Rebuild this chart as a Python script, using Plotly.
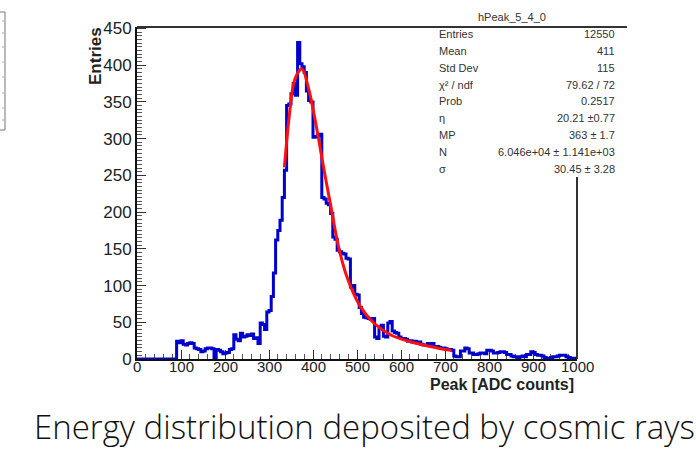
import numpy as np
import plotly.graph_objects as go

# ---------------- data ----------------
BIN_LOW = 0
BIN_WIDTH = 5
counts = [
    # 0-90
    0, 0, 0, 0, 0, 0, 0, 0, 0, 0, 0, 0, 0, 0, 0, 0, 0, 0,
    # 90-180
    24, 22, 25, 20, 19, 21, 22, 21, 15, 14, 13, 10, 11, 14, 15, 15, 14, 2,
    # 180-270
    13, 12, 10, 7, 8, 9, 13, 14, 33, 27, 25, 35, 30, 31, 33, 32, 34, 28,
    # 270-320
    29, 21, 49, 47, 40, 64, 66, 85, 117, 162,
    # 320-420
    175, 189, 220, 257, 345, 347, 361, 375, 359, 431,
    402, 398, 390, 365, 352, 350, 302, 303, 304, 306,
    # 420-495
    220, 218, 212, 210, 198, 166, 163, 148, 146, 144, 143, 137, 136, 98, 100,
    # 495-600
    88, 87, 70, 62, 57, 56, 55, 54, 55, 30, 28, 44, 46, 31, 30, 49, 51, 38, 36, 35, 30,
    # 600-720
    28, 28, 27, 24, 25, 23, 24, 22, 23, 20, 19, 19, 21, 20, 21, 17, 17, 16, 15, 15,
    14, 13, 13, 12,
    # 720-820
    4, 3, 3, 11, 11, 15, 14, 8, 8, 6, 6, 7, 8, 8, 7, 12, 12, 11, 8, 8,
    # 820-920
    9, 10, 10, 9, 6, 6, 4, 3, 3, 2, 3, 4, 3, 6, 6, 10, 9, 6, 5, 5,
    # 920-1000
    4, 2, 1, 1, 2, 3, 3, 4, 5, 5, 5, 3, 2, 1, 1, 1,
]

fit_x = [335, 345, 356, 366, 375, 390, 405, 424, 443, 458, 477, 507, 538, 576, 621, 667, 704, 715]
fit_y = [261, 325, 375, 390, 395, 368, 325, 261, 200, 153, 112, 72, 49, 33, 23.5, 17, 12.5, 11.5]

x_ticks = [0, 100, 200, 300, 400, 500, 600, 700, 800, 900, 1000]
y_ticks = [0, 50, 100, 150, 200, 250, 300, 350, 400, 450]

hist_name = "hPeak_5_4_0"
stat_labels = ["Entries", "Mean", "Std Dev", "χ² / ndf", "Prob", "η", "MP", "N", "σ"]
stat_values = ["12550", "411", "115", "79.62 / 72", "0.2517", "20.21 ±0.77",
               "363 ± 1.7", "6.046e+04 ± 1.141e+03", "30.45 ± 3.28"]

x_title = "Peak [ADC counts]"
y_title = "Entries"
caption = "Energy distribution deposited by cosmic rays"

# ---------------- figure ----------------
W, H = 696, 453
L, R, T, B = 137, 577, 27, 359   # plot area in pixels


def px(xp):
    return (xp - L) / (R - L)


def py(yp):
    return (B - yp) / (B - T)


edges = BIN_LOW + BIN_WIDTH * np.arange(len(counts) + 1)
step_y = list(counts) + [counts[-1]]

fig = go.Figure()
fig.add_trace(go.Scatter(
    x=edges, y=step_y, mode="lines", line=dict(color="#0000cc", width=3, shape="hv"),
    hoverinfo="skip", showlegend=False))
fig.add_trace(go.Scatter(
    x=fit_x, y=fit_y, mode="lines", line=dict(color="#ff1010", width=3, shape="spline", smoothing=1.0),
    hoverinfo="skip", showlegend=False))

FONT = "Liberation Sans, Arial, sans-serif"
tick_font = dict(family=FONT, size=15, color="#222")

fig.update_layout(
    width=W, height=H, autosize=False,
    margin=dict(l=L, r=W - R, t=T, b=H - B, pad=0),
    paper_bgcolor="white", plot_bgcolor="white",
    xaxis=dict(range=[0, 1000], tickvals=x_ticks, showticklabels=False,
               ticks="inside", ticklen=9, tickwidth=1, tickcolor="#333",
               minor=dict(ticks="inside", dtick=20, ticklen=5, tickwidth=1, tickcolor="#555"),
               showline=True, linecolor="#111", linewidth=2, mirror=False,
               showgrid=False, zeroline=False, layer="below traces"),
    yaxis=dict(range=[0, 452], tickvals=y_ticks, ticktext=[str(v) for v in y_ticks],
               ticks="inside", ticklen=9, tickwidth=1, tickcolor="#333",
               minor=dict(ticks="inside", dtick=5, ticklen=5, tickwidth=1, tickcolor="#555"),
               showline=True, linecolor="#111", linewidth=2, mirror=False,
               showgrid=False, zeroline=False, tickfont=dict(family=FONT, size=17, color="#222"),
               layer="below traces"),
)

shapes = []
# stats box (white, covers the frame top-right)
shapes.append(dict(type="rect", xref="paper", yref="paper",
                   x0=px(430), x1=px(627), y0=py(177), y1=py(4),
                   fillcolor="white", line=dict(width=0), layer="above"))
# top line of frame + stats separator
shapes.append(dict(type="line", xref="paper", yref="paper",
                   x0=0, x1=px(627), y0=1, y1=1, line=dict(color="#333", width=2), layer="above"))
# right frame line below the stats box
shapes.append(dict(type="line", xref="paper", yref="paper",
                   x0=1, x1=1, y0=0, y1=py(177), line=dict(color="#333", width=2), layer="above"))
# fragment of neighbouring picture at left edge
shapes.append(dict(type="rect", xref="paper", yref="paper",
                   x0=px(-5), x1=px(5), y0=py(130), y1=py(12),
                   fillcolor="rgba(0,0,0,0)", line=dict(color="#777", width=1), layer="above"))
for yy in [21, 33, 47, 62, 77, 93, 108, 120]:
    shapes.append(dict(type="line", xref="paper", yref="paper",
                       x0=px(2), x1=px(4), y0=py(yy), y1=py(yy),
                       line=dict(color="#aaa", width=1), layer="above"))
fig.update_layout(shapes=shapes)

ann = []
# x tick labels placed on the x scale
for v in x_ticks:
    ann.append(dict(text=str(v), x=v, y=py(366), xref="x", yref="paper",
                    showarrow=False, xanchor="center", yanchor="middle", font=tick_font))

stat_font = dict(family=FONT, size=11, color="#333")
ann.append(dict(text=hist_name, x=px(512), y=py(17), xref="paper", yref="paper",
                showarrow=False, xanchor="center", yanchor="middle",
                font=dict(stat_font, size=11)))
row_y = [34, 51, 68, 84.5, 101, 118, 135, 151.5, 168.5]
for lab, val, yy in zip(stat_labels, stat_values, row_y):
    ann.append(dict(text=lab, x=px(437), y=py(yy), xref="paper", yref="paper",
                    showarrow=False, xanchor="left", yanchor="middle", font=stat_font))
    ann.append(dict(text=val, x=px(617), y=py(yy), xref="paper", yref="paper",
                    showarrow=False, xanchor="right", yanchor="middle", font=stat_font))

ann.append(dict(text="<b>" + y_title + "</b>", x=px(96), y=py(56), xref="paper", yref="paper",
                showarrow=False, textangle=-90, xanchor="center", yanchor="middle",
                font=dict(family=FONT, size=17, color="#222")))
ann.append(dict(text="<b>" + x_title + "</b>", x=px(576), y=py(384), xref="paper", yref="paper",
                showarrow=False, xanchor="right", yanchor="middle",
                font=dict(family=FONT, size=16, color="#222")))
ann.append(dict(text=caption, x=px(364.5), y=py(426), xref="paper", yref="paper",
                showarrow=False, xanchor="center", yanchor="middle",
                font=dict(family="Open Sans, sans-serif", size=33, color="#111", weight=300)))
fig.update_layout(annotations=ann)

fig.write_html("out.html", config={"displayModeBar": False},
               post_script="document.body.style.margin='0px';")
